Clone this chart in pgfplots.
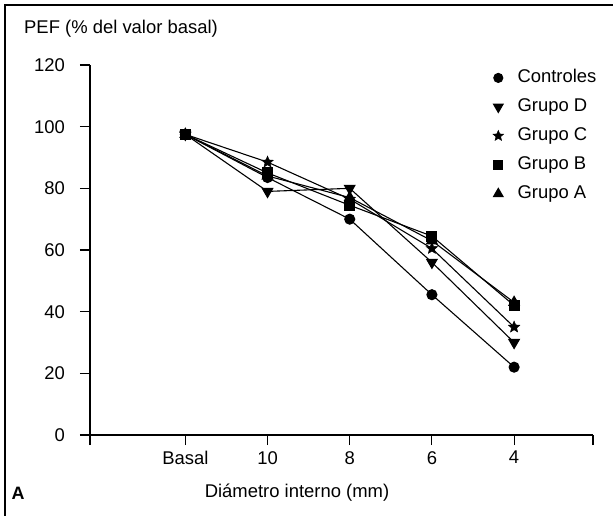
\documentclass[border=0pt]{standalone}
\usepackage{pgfplots}
\pgfplotsset{compat=1.18}
\usepackage{fontspec}
\setmainfont{Liberation Sans}
\pgfdeclareplotmark{fstar}{%
  \pgfpathmoveto{\pgfqpointpolar{90}{\pgfplotmarksize}}%
  \pgfpathlineto{\pgfqpointpolar{126}{0.45\pgfplotmarksize}}%
  \pgfpathlineto{\pgfqpointpolar{162}{\pgfplotmarksize}}%
  \pgfpathlineto{\pgfqpointpolar{198}{0.45\pgfplotmarksize}}%
  \pgfpathlineto{\pgfqpointpolar{234}{\pgfplotmarksize}}%
  \pgfpathlineto{\pgfqpointpolar{270}{0.45\pgfplotmarksize}}%
  \pgfpathlineto{\pgfqpointpolar{306}{\pgfplotmarksize}}%
  \pgfpathlineto{\pgfqpointpolar{342}{0.45\pgfplotmarksize}}%
  \pgfpathlineto{\pgfqpointpolar{18}{\pgfplotmarksize}}%
  \pgfpathlineto{\pgfqpointpolar{54}{0.45\pgfplotmarksize}}%
  \pgfpathclose
  \pgfusepathqfillstroke}
\begin{document}
\begin{tikzpicture}
\path[use as bounding box] (0,0) rectangle (613bp,516bp);
\draw[line width=1.1bp] (5bp,0) -- (5bp,511bp) -- (613bp,511bp);
\node[anchor=west,inner sep=0,font=\fontsize{18.5}{21}\selectfont] at (24bp,487bp) {PEF (\% del valor basal)};
\node[anchor=center,inner sep=0,font=\fontsize{18.5}{21}\selectfont] at (297bp,23bp) {Diámetro interno (mm)};
\node[anchor=center,inner sep=0,font=\fontsize{18}{21}\selectfont\bfseries] at (18bp,23bp) {A};
\begin{axis}[
  at={(90bp,81bp)}, anchor=south west,
  scale only axis, width=503bp, height=370bp,
  xmin=-0.16, xmax=5.96, ymin=0, ymax=120,
  axis lines=left, axis line style={-, line width=1.1bp},
  xtick={-0.16,1,2,3,4,5,5.96},
  xticklabels={,Basal,10,8,6,4,},
  ytick={0,20,...,120},
  tick align=outside, major tick length=10bp,
  tick style={line width=1.1bp, black},
  /pgf/number format/assume math mode=true,
  ticklabel style={font=\fontsize{18.5}{21}\selectfont},
  yticklabel style={inner sep=0pt, xshift=-15bp},
  xticklabel style={inner sep=0pt, yshift=-6bp},
  clip=false,
  legend cell align=left,
  legend style={draw=none, fill=none, at={(0.795,0.994)}, anchor=north west,
    font=\fontsize{18.5}{21}\selectfont,
    nodes={inner sep=0pt, text height=13bp, text depth=4bp},
    row sep=12bp,
    /tikz/every odd column/.append style={column sep=14bp}},
  every axis plot/.append style={black, line width=1.1bp, mark options={solid, fill=black}},
]
\addplot[mark=*, mark size=5bp, forget plot] coordinates {(1,97.5) (2,83.5) (3,70) (4,45.5) (5,22)};
\addplot[mark=triangle*, mark size=6bp, mark options={rotate=180}, forget plot] coordinates {(1,97.5) (2,79) (3,80) (4,56) (5,30)};
\addplot[mark=fstar, mark size=6bp, mark options={line width=0.5bp}, forget plot] coordinates {(1,97.5) (2,88.5) (3,76.5) (4,60.5) (5,35)};
\addplot[mark=square*, mark size=5bp, forget plot] coordinates {(1,97.5) (2,85) (3,74.5) (4,64.5) (5,42)};
\addplot[mark=triangle*, mark size=6bp, forget plot] coordinates {(1,97.5) (2,84) (3,77) (4,63) (5,43)};
\addlegendimage{only marks, black, mark=*, mark size=4.5bp}
\addlegendentry{Controles}
\addlegendimage{only marks, black, mark=triangle*, mark size=5.5bp, mark options={rotate=180}}
\addlegendentry{Grupo D}
\addlegendimage{only marks, black, mark=fstar, mark size=5.5bp, line width=0.5bp}
\addlegendentry{Grupo C}
\addlegendimage{only marks, black, mark=square*, mark size=4.5bp}
\addlegendentry{Grupo B}
\addlegendimage{only marks, black, mark=triangle*, mark size=5.5bp}
\addlegendentry{Grupo A}
\end{axis}
\end{tikzpicture}
\end{document}
